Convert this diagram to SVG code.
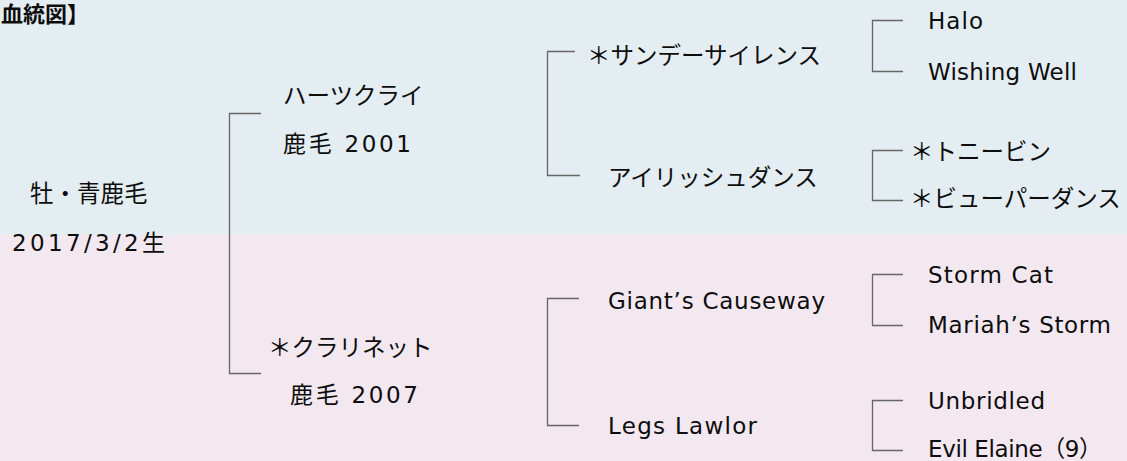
<svg xmlns="http://www.w3.org/2000/svg" width="1127" height="461" viewBox="0 0 1127 461">
<style>
.t{font-family:"Noto Sans CJK JP","Noto Sans",sans-serif;font-size:23.5px;fill:#0d0d0d}
.l{font-family:"DejaVu Sans","Noto Sans CJK JP",sans-serif;font-size:23px;fill:#0d0d0d}
.b{font-weight:bold;font-size:22px}
.c{fill:none;stroke:#666;stroke-width:1.3}
</style>
<rect x="0" y="0" width="1127" height="235" fill="#e4edf2"/>
<rect x="0" y="235" width="1127" height="226" fill="#f3e8ef"/>
<text class="t b" x="1" y="22">血統図】</text>
<g id="connectors">
<path class="c" d="M261,113.5H229.5V373.5H261"/>
<path class="c" d="M575,51.5H547.5V175.5H580"/>
<path class="c" d="M579,298.5H547.5V425.5H579"/>
<path class="c" d="M903,20.5H872.5V71.5H903"/>
<path class="c" d="M903,150.5H872.5V200.5H903"/>
<path class="c" d="M903,274.5H872.5V325.5H903"/>
<path class="c" d="M903,400.5H872.5V450.5H903"/>
</g>
<g id="self"><text class="t" x="30" y="202">牡・青鹿毛</text><text class="l" x="12" y="251" textLength="153">2017/3/2生</text></g>
<g id="sire"><text class="t" x="283" y="104">ハーツクライ</text><text class="l" x="283" y="152" textLength="128">鹿毛 2001</text></g>
<g id="dam"><text class="t" x="268" y="356">＊クラリネット</text><text class="l" x="290" y="403" textLength="128">鹿毛 2007</text></g>
<g id="ss"><text class="t" x="587" y="64">＊サンデーサイレンス</text></g>
<g id="irish"><text class="t" x="608" y="186">アイリッシュダンス</text></g>
<g id="giants"><text class="l" x="608" y="309" textLength="217">Giant’s Causeway</text></g>
<g id="legs"><text class="l" x="608" y="434" textLength="149">Legs Lawlor</text></g>
<g id="halo"><text class="l" x="928" y="29" textLength="55">Halo</text></g>
<g id="wishing"><text class="l" x="928" y="80" textLength="149">Wishing Well</text></g>
<g id="tony"><text class="t" x="910" y="160">＊トニービン</text></g>
<g id="buper"><text class="t" x="910" y="207">＊ビューパーダンス</text></g>
<g id="storm"><text class="l" x="928" y="283" textLength="125">Storm Cat</text></g>
<g id="mariah"><text class="l" x="928" y="333" textLength="183">Mariah’s Storm</text></g>
<g id="unbridled"><text class="l" x="928" y="409" textLength="117">Unbridled</text></g>
<g id="evil"><text class="l" x="928" y="457" textLength="174">Evil Elaine（9）</text></g>
</svg>
